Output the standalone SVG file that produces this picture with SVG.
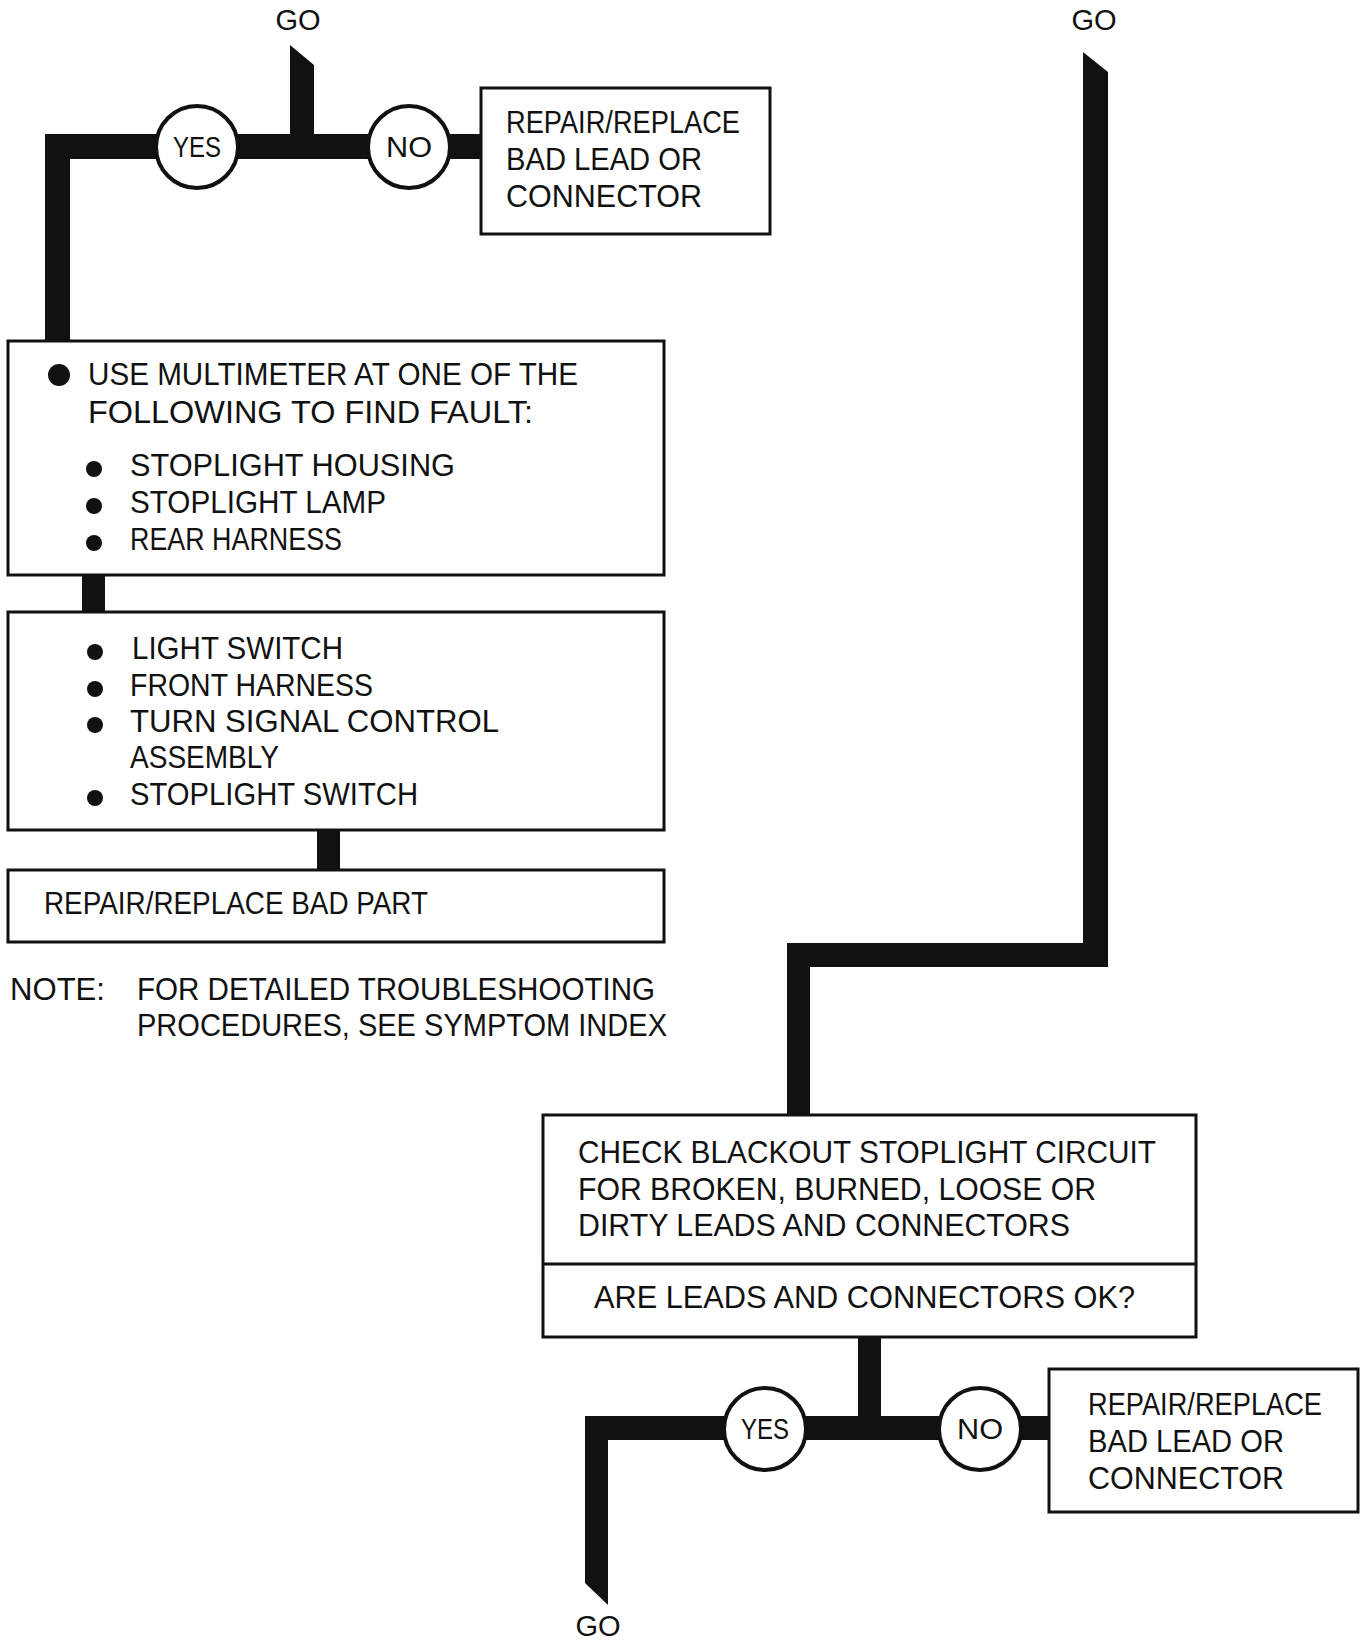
<svg xmlns="http://www.w3.org/2000/svg" width="1364" height="1642" viewBox="0 0 1364 1642">
<style>
.t{font-family:"Liberation Sans",Arial,sans-serif;font-size:31px;fill:#111}
.c{text-anchor:middle}
.s{font-size:29px}
.box{fill:#fff;stroke:#111;stroke-width:3}
.dec{fill:#fff;stroke:#111;stroke-width:4}
.bar{fill:#111}
.dot{fill:#111}
</style>
<rect width="1364" height="1642" fill="#fff"/>
<g id="connectors">
<polygon class="bar" points="290,45 314,65 314,147 290,147"/>
<rect class="bar" x="45" y="134" width="436" height="25"/>
<rect class="bar" x="45" y="134" width="25" height="208"/>
<rect class="bar" x="82" y="574" width="23" height="40"/>
<rect class="bar" x="317" y="829" width="23" height="43"/>
<polygon class="bar" points="1083,52 1108,72 1108,967 810,967 810,1116 787,1116 787,943 1083,943"/>
<rect class="bar" x="858" y="1336" width="23" height="92"/>
<rect class="bar" x="585" y="1416" width="465" height="24"/>
<polygon class="bar" points="585,1416 608,1416 608,1605 585,1583"/>
</g>
<g id="go-top-left"><text class="t s c" x="298" y="30">GO</text></g>
<g id="go-top-right"><text class="t s c" x="1094" y="30">GO</text></g>
<g id="go-bottom"><text class="t s c" x="598" y="1636">GO</text></g>
<g id="yes-top"><circle class="dec" cx="197" cy="147" r="41"/><text class="t s c" x="197" y="157" textLength="48" lengthAdjust="spacingAndGlyphs">YES</text></g>
<g id="no-top"><circle class="dec" cx="409" cy="147" r="41"/><text class="t s c" x="409" y="157" textLength="46" lengthAdjust="spacingAndGlyphs">NO</text></g>
<g id="repair-top">
<rect class="box" x="481" y="88" width="289" height="146"/>
<text class="t" x="506" y="133" textLength="234" lengthAdjust="spacingAndGlyphs">REPAIR/REPLACE</text>
<text class="t" x="506" y="170" textLength="196" lengthAdjust="spacingAndGlyphs">BAD LEAD OR</text>
<text class="t" x="506" y="207" textLength="196" lengthAdjust="spacingAndGlyphs">CONNECTOR</text>
</g>
<g id="multimeter">
<rect class="box" x="8" y="341" width="656" height="234"/>
<circle class="dot" cx="59" cy="375" r="11"/>
<text class="t" x="88" y="385" textLength="490" lengthAdjust="spacingAndGlyphs">USE MULTIMETER AT ONE OF THE</text>
<text class="t" x="88" y="423" textLength="445" lengthAdjust="spacingAndGlyphs">FOLLOWING TO FIND FAULT:</text>
<circle class="dot" cx="94" cy="469" r="8"/>
<text class="t" x="130" y="476" textLength="325" lengthAdjust="spacingAndGlyphs">STOPLIGHT HOUSING</text>
<circle class="dot" cx="94" cy="506" r="8"/>
<text class="t" x="130" y="513" textLength="256" lengthAdjust="spacingAndGlyphs">STOPLIGHT LAMP</text>
<circle class="dot" cx="94" cy="543" r="8"/>
<text class="t" x="130" y="550" textLength="212" lengthAdjust="spacingAndGlyphs">REAR HARNESS</text>
</g>
<g id="parts">
<rect class="box" x="8" y="612" width="656" height="218"/>
<circle class="dot" cx="95" cy="652" r="8"/>
<text class="t" x="132" y="659" textLength="211" lengthAdjust="spacingAndGlyphs">LIGHT SWITCH</text>
<circle class="dot" cx="95" cy="689" r="8"/>
<text class="t" x="130" y="696" textLength="243" lengthAdjust="spacingAndGlyphs">FRONT HARNESS</text>
<circle class="dot" cx="95" cy="725" r="8"/>
<text class="t" x="130" y="732" textLength="369" lengthAdjust="spacingAndGlyphs">TURN SIGNAL CONTROL</text>
<text class="t" x="130" y="768" textLength="149" lengthAdjust="spacingAndGlyphs">ASSEMBLY</text>
<circle class="dot" cx="95" cy="798" r="8"/>
<text class="t" x="130" y="805" textLength="288" lengthAdjust="spacingAndGlyphs">STOPLIGHT SWITCH</text>
</g>
<g id="repair-part">
<rect class="box" x="8" y="870" width="656" height="72"/>
<text class="t" x="44" y="914" textLength="384" lengthAdjust="spacingAndGlyphs">REPAIR/REPLACE BAD PART</text>
</g>
<g id="note">
<text class="t" x="10" y="1000" textLength="95" lengthAdjust="spacingAndGlyphs">NOTE:</text>
<text class="t" x="137" y="1000" textLength="518" lengthAdjust="spacingAndGlyphs">FOR DETAILED TROUBLESHOOTING</text>
<text class="t" x="137" y="1036" textLength="530" lengthAdjust="spacingAndGlyphs">PROCEDURES, SEE SYMPTOM INDEX</text>
</g>
<g id="check-blackout">
<rect class="box" x="543" y="1115" width="653" height="222"/>
<line x1="543" y1="1264" x2="1196" y2="1264" stroke="#111" stroke-width="3"/>
<text class="t" x="578" y="1163" textLength="578" lengthAdjust="spacingAndGlyphs">CHECK BLACKOUT STOPLIGHT CIRCUIT</text>
<text class="t" x="578" y="1200" textLength="518" lengthAdjust="spacingAndGlyphs">FOR BROKEN, BURNED, LOOSE OR</text>
<text class="t" x="578" y="1236" textLength="492" lengthAdjust="spacingAndGlyphs">DIRTY LEADS AND CONNECTORS</text>
<text class="t" x="594" y="1308" textLength="541" lengthAdjust="spacingAndGlyphs">ARE LEADS AND CONNECTORS OK?</text>
</g>
<g id="yes-bottom"><circle class="dec" cx="765" cy="1429" r="41"/><text class="t s c" x="765" y="1439" textLength="48" lengthAdjust="spacingAndGlyphs">YES</text></g>
<g id="no-bottom"><circle class="dec" cx="980" cy="1429" r="41"/><text class="t s c" x="980" y="1439" textLength="46" lengthAdjust="spacingAndGlyphs">NO</text></g>
<g id="repair-bottom">
<rect class="box" x="1049" y="1369" width="309" height="143"/>
<text class="t" x="1088" y="1415" textLength="234" lengthAdjust="spacingAndGlyphs">REPAIR/REPLACE</text>
<text class="t" x="1088" y="1452" textLength="196" lengthAdjust="spacingAndGlyphs">BAD LEAD OR</text>
<text class="t" x="1088" y="1489" textLength="196" lengthAdjust="spacingAndGlyphs">CONNECTOR</text>
</g>
</svg>
